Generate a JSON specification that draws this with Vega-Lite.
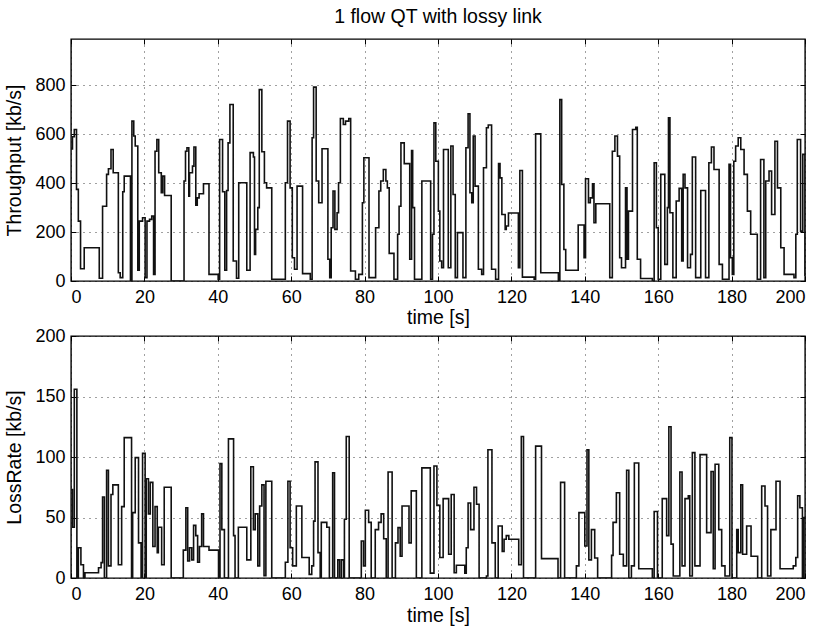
{
  "$schema": "https://vega.github.io/schema/vega-lite/v6.json",
  "background": "white",
  "padding": {"left": 4, "top": 6, "right": 5, "bottom": 0},
  "config": {
    "font": "Liberation Sans",
    "view": {"stroke": "black", "strokeWidth": 1.4},
    "axis": {
      "domain": false,
      "gridColor": "#000000",
      "gridDash": [1, 5],
      "gridOpacity": 0.75,
      "gridWidth": 1,
      "tickSize": -5,
      "tickColor": "#000000",
      "tickWidth": 1,
      "labelFont": "Liberation Sans",
      "labelFontSize": 18,
      "labelColor": "#000000",
      "titleFont": "Liberation Sans",
      "titleFontSize": 19.5,
      "titleFontWeight": "normal",
      "titleColor": "#000000"
    },
    "title": {"font": "Liberation Sans", "fontSize": 19.5, "fontWeight": "normal", "color": "#000000"}
  },
  "datasets": {
    "tp": [
      {"t":0,"v":540},{"t":0.4,"v":590},{"t":0.9,"v":620},{"t":1.5,"v":375},{"t":2.0,"v":245},{"t":2.6,"v":50},{"t":3.6,"v":136},{"t":7.7,"v":11},{"t":8.6,"v":306},{"t":9.7,"v":436},{"t":10.2,"v":459},{"t":10.9,"v":538},{"t":11.5,"v":443},{"t":12.9,"v":34},{"t":13.4,"v":14},{"t":14.1,"v":365},{"t":14.5,"v":429},{"t":16.2,"v":0},{"t":16.6,"v":654},{"t":17.1,"v":593},{"t":17.5,"v":552},{"t":18.2,"v":44},{"t":18.6,"v":245},{"t":19.5,"v":259},{"t":20.2,"v":14},{"t":20.7,"v":245},{"t":21.4,"v":252},{"t":22.0,"v":266},{"t":22.5,"v":27},{"t":22.9,"v":531},{"t":23.4,"v":579},{"t":23.9,"v":443},{"t":24.6,"v":361},{"t":25.0,"v":429},{"t":25.5,"v":350},{"t":27.3,"v":0},{"t":30.8,"v":409},{"t":31.2,"v":531},{"t":31.6,"v":545},{"t":32.1,"v":347},{"t":32.3,"v":443},{"t":33.1,"v":470},{"t":33.5,"v":548},{"t":34.0,"v":310},{"t":34.4,"v":340},{"t":34.9,"v":357},{"t":36.1,"v":398},{"t":37.6,"v":27},{"t":40.1,"v":7},{"t":40.5,"v":579},{"t":41.3,"v":365},{"t":41.9,"v":44},{"t":42.4,"v":370},{"t":42.8,"v":565},{"t":43.3,"v":722},{"t":44.2,"v":82},{"t":45.1,"v":11},{"t":45.7,"v":402},{"t":47.9,"v":44},{"t":48.8,"v":525},{"t":49.7,"v":507},{"t":50.0,"v":109},{"t":50.3,"v":211},{"t":50.9,"v":300},{"t":51.3,"v":783},{"t":52.0,"v":529},{"t":52.7,"v":402},{"t":53.3,"v":381},{"t":54.7,"v":7},{"t":58.4,"v":402},{"t":59.0,"v":654},{"t":59.7,"v":381},{"t":60.3,"v":95},{"t":60.9,"v":48},{"t":61.6,"v":388},{"t":63.1,"v":30},{"t":65.2,"v":7},{"t":65.7,"v":586},{"t":66.1,"v":793},{"t":66.8,"v":409},{"t":67.5,"v":320},{"t":68.4,"v":541},{"t":70.0,"v":89},{"t":70.5,"v":14},{"t":70.9,"v":218},{"t":71.4,"v":368},{"t":71.9,"v":211},{"t":72.5,"v":279},{"t":72.9,"v":402},{"t":73.4,"v":665},{"t":74.2,"v":640},{"t":74.8,"v":654},{"t":75.7,"v":665},{"t":76.2,"v":41},{"t":77.5,"v":7},{"t":78.4,"v":27},{"t":79.4,"v":320},{"t":79.8,"v":504},{"t":81.2,"v":14},{"t":83.0,"v":218},{"t":83.9,"v":368},{"t":84.4,"v":409},{"t":85.1,"v":456},{"t":85.8,"v":409},{"t":86.2,"v":381},{"t":86.7,"v":113},{"t":88.0,"v":7},{"t":89.0,"v":191},{"t":89.4,"v":306},{"t":89.9,"v":565},{"t":90.8,"v":480},{"t":92.3,"v":89},{"t":92.8,"v":534},{"t":93.1,"v":300},{"t":93.6,"v":7},{"t":95.6,"v":409},{"t":98.0,"v":7},{"t":98.5,"v":191},{"t":98.9,"v":647},{"t":99.4,"v":490},{"t":100.1,"v":286},{"t":100.5,"v":82},{"t":101.0,"v":54},{"t":101.5,"v":538},{"t":102.8,"v":54},{"t":103.5,"v":552},{"t":104.1,"v":354},{"t":104.7,"v":14},{"t":105.3,"v":198},{"t":106.8,"v":14},{"t":107.6,"v":545},{"t":108.2,"v":684},{"t":108.7,"v":361},{"t":109.2,"v":320},{"t":109.6,"v":593},{"t":110.1,"v":388},{"t":111.0,"v":48},{"t":111.9,"v":27},{"t":112.4,"v":463},{"t":113.2,"v":627},{"t":113.7,"v":638},{"t":114.6,"v":48},{"t":115.7,"v":7},{"t":116.5,"v":480},{"t":116.9,"v":422},{"t":117.4,"v":272},{"t":118.3,"v":211},{"t":118.6,"v":225},{"t":119.2,"v":278},{"t":121.9,"v":54},{"t":122.3,"v":452},{"t":123.0,"v":16},{"t":126.2,"v":7},{"t":126.6,"v":602},{"t":128.0,"v":34},{"t":132.8,"v":0},{"t":133.2,"v":742},{"t":133.7,"v":395},{"t":134.3,"v":129},{"t":134.8,"v":44},{"t":138.2,"v":229},{"t":139.8,"v":95},{"t":140.2,"v":418},{"t":141.0,"v":320},{"t":141.5,"v":340},{"t":142.1,"v":398},{"t":142.5,"v":238},{"t":143.0,"v":316},{"t":146.8,"v":14},{"t":147.5,"v":531},{"t":148.2,"v":593},{"t":148.9,"v":511},{"t":149.5,"v":95},{"t":150.0,"v":54},{"t":151.1,"v":381},{"t":151.5,"v":89},{"t":151.9,"v":286},{"t":153.0,"v":620},{"t":153.9,"v":629},{"t":154.3,"v":89},{"t":155.2,"v":10},{"t":158.4,"v":0},{"t":158.9,"v":484},{"t":159.5,"v":218},{"t":160.0,"v":7},{"t":160.7,"v":436},{"t":161.8,"v":68},{"t":162.5,"v":300},{"t":162.8,"v":668},{"t":163.2,"v":279},{"t":164.0,"v":14},{"t":164.9,"v":327},{"t":165.7,"v":379},{"t":166.4,"v":82},{"t":166.8,"v":436},{"t":167.3,"v":381},{"t":168.0,"v":54},{"t":168.8,"v":109},{"t":169.3,"v":507},{"t":170.2,"v":14},{"t":171.6,"v":370},{"t":172.9,"v":14},{"t":173.8,"v":484},{"t":174.5,"v":548},{"t":175.2,"v":456},{"t":176.6,"v":68},{"t":177.5,"v":7},{"t":179.3,"v":477},{"t":179.7,"v":95},{"t":180.2,"v":27},{"t":180.6,"v":490},{"t":181.1,"v":552},{"t":181.8,"v":586},{"t":182.5,"v":538},{"t":183.4,"v":436},{"t":184.3,"v":286},{"t":185.2,"v":191},{"t":187.0,"v":7},{"t":187.9,"v":497},{"t":188.8,"v":14},{"t":189.3,"v":409},{"t":190.2,"v":450},{"t":190.9,"v":272},{"t":191.8,"v":572},{"t":192.5,"v":381},{"t":193.4,"v":136},{"t":194.3,"v":27},{"t":197.0,"v":14},{"t":197.5,"v":191},{"t":197.9,"v":579},{"t":198.8,"v":204},{"t":199.4,"v":518},{"t":200,"v":20}
    ],
    "lr": [
      {"t":0,"v":73},{"t":0.4,"v":42},{"t":0.9,"v":156},{"t":1.6,"v":0},{"t":2.0,"v":25},{"t":2.7,"v":11},{"t":3.4,"v":0},{"t":3.8,"v":4.4},{"t":7.5,"v":8.5},{"t":8.2,"v":12.7},{"t":8.6,"v":67},{"t":9.1,"v":0},{"t":9.7,"v":89},{"t":10.2,"v":10},{"t":10.9,"v":69},{"t":11.4,"v":77},{"t":12.9,"v":11},{"t":13.8,"v":59},{"t":14.5,"v":116},{"t":16.5,"v":0},{"t":16.8,"v":54},{"t":17.5,"v":99.5},{"t":18.4,"v":29},{"t":19.1,"v":0},{"t":19.5,"v":103},{"t":20.2,"v":0},{"t":20.5,"v":82},{"t":21.1,"v":53},{"t":21.6,"v":79},{"t":22.3,"v":26},{"t":22.9,"v":59},{"t":23.5,"v":21},{"t":23.8,"v":42},{"t":24.7,"v":11},{"t":25.4,"v":75},{"t":27.3,"v":0},{"t":30.6,"v":23},{"t":31.3,"v":58},{"t":31.8,"v":14},{"t":32.3,"v":25},{"t":32.9,"v":15},{"t":33.4,"v":43.5},{"t":34.0,"v":35},{"t":34.5,"v":13},{"t":35.0,"v":26},{"t":35.6,"v":53},{"t":36.1,"v":26},{"t":37.6,"v":23},{"t":40.2,"v":0},{"t":40.6,"v":94.5},{"t":41.1,"v":40},{"t":41.8,"v":0},{"t":42.9,"v":115},{"t":44.3,"v":35},{"t":44.7,"v":0},{"t":45.6,"v":42},{"t":47.9,"v":15},{"t":49.0,"v":92},{"t":49.7,"v":40},{"t":50.2,"v":53},{"t":50.9,"v":10},{"t":51.4,"v":59.5},{"t":52.0,"v":77},{"t":52.6,"v":2},{"t":53.1,"v":80},{"t":54.7,"v":0},{"t":58.4,"v":13},{"t":59.1,"v":80},{"t":59.7,"v":25},{"t":60.4,"v":10},{"t":61.4,"v":59.5},{"t":62.9,"v":17},{"t":64.9,"v":3},{"t":65.6,"v":10},{"t":66.1,"v":47},{"t":66.5,"v":96},{"t":67.3,"v":21},{"t":67.9,"v":0},{"t":68.2,"v":46},{"t":69.7,"v":42},{"t":70.4,"v":0},{"t":71.3,"v":87},{"t":71.8,"v":0},{"t":72.7,"v":15},{"t":73.2,"v":0},{"t":73.7,"v":15},{"t":74.3,"v":0},{"t":74.5,"v":48.5},{"t":75.0,"v":117},{"t":75.8,"v":0},{"t":79.1,"v":30.6},{"t":79.7,"v":10},{"t":80.2,"v":56},{"t":81.1,"v":46},{"t":81.8,"v":0},{"t":82.9,"v":40},{"t":83.8,"v":46},{"t":84.5,"v":53},{"t":85.2,"v":32.5},{"t":85.9,"v":0},{"t":86.4,"v":87.6},{"t":87.5,"v":0},{"t":88.4,"v":29},{"t":89.1,"v":41.6},{"t":89.7,"v":18},{"t":90.2,"v":59.5},{"t":92.1,"v":29},{"t":92.7,"v":72},{"t":94.1,"v":0},{"t":95.6,"v":91},{"t":97.9,"v":4},{"t":98.9,"v":92.6},{"t":99.7,"v":60},{"t":100.5,"v":17},{"t":101.4,"v":65.6},{"t":102.9,"v":19.6},{"t":103.6,"v":69},{"t":104.4,"v":4.4},{"t":105.0,"v":10.5},{"t":107.3,"v":4},{"t":107.7,"v":25},{"t":108.2,"v":62},{"t":108.9,"v":40},{"t":109.8,"v":75},{"t":110.5,"v":61},{"t":111.2,"v":0},{"t":113.2,"v":1.6},{"t":113.6,"v":106},{"t":114.7,"v":29},{"t":115.6,"v":0},{"t":116.4,"v":43},{"t":117.5,"v":22},{"t":118.0,"v":32},{"t":118.6,"v":35},{"t":119.3,"v":32},{"t":122.0,"v":11},{"t":122.7,"v":117},{"t":123.3,"v":0},{"t":126.6,"v":109},{"t":128.2,"v":16},{"t":132.7,"v":0},{"t":133.4,"v":79},{"t":134.5,"v":0},{"t":137.7,"v":10},{"t":138.4,"v":54},{"t":140.0,"v":26.4},{"t":140.6,"v":106},{"t":141.1,"v":15},{"t":141.8,"v":40},{"t":142.7,"v":16.5},{"t":143.5,"v":0},{"t":147.3,"v":18.7},{"t":147.7,"v":46},{"t":148.6,"v":70.5},{"t":149.5,"v":19.6},{"t":150.5,"v":10},{"t":151.4,"v":89},{"t":152.0,"v":0},{"t":152.7,"v":10},{"t":153.5,"v":95},{"t":154.7,"v":7.7},{"t":158.4,"v":0},{"t":158.9,"v":55},{"t":159.8,"v":0},{"t":161.1,"v":65.6},{"t":162.3,"v":35},{"t":162.9,"v":125},{"t":163.5,"v":28},{"t":164.1,"v":1.6},{"t":165.9,"v":87.6},{"t":166.5,"v":10},{"t":167.3,"v":65.6},{"t":168.2,"v":68},{"t":168.6,"v":1.6},{"t":169.3,"v":103.6},{"t":170.0,"v":10},{"t":171.4,"v":102},{"t":173.2,"v":37.5},{"t":174.4,"v":88},{"t":175.0,"v":7.7},{"t":175.5,"v":94},{"t":176.5,"v":40},{"t":177.3,"v":10},{"t":178.2,"v":1.6},{"t":179.5,"v":116},{"t":180.1,"v":0},{"t":181.4,"v":40},{"t":181.8,"v":21},{"t":182.5,"v":77},{"t":183.0,"v":19.6},{"t":184.1,"v":43},{"t":185.3,"v":18},{"t":187.1,"v":0},{"t":188.2,"v":76},{"t":189.1,"v":59.5},{"t":189.8,"v":1.6},{"t":190.7,"v":40},{"t":192.1,"v":80},{"t":193.2,"v":7.7},{"t":196.8,"v":10},{"t":197.5,"v":17},{"t":198.0,"v":68},{"t":198.6,"v":58},{"t":199.3,"v":0},{"t":199.7,"v":50},{"t":200,"v":50}
    ]
  },
  "spacing": 55,
  "bounds": "flush",
  "vconcat": [
    {
      "width": 734,
      "height": 242,
      "title": {"text": "1 flow QT with lossy link", "frame": "group", "anchor": "middle", "baseline": "alphabetic", "offset": -4},
      "data": {"name": "tp"},
      "layer": [
        {
          "mark": {"type": "line", "interpolate": "step-after", "color": "#111111", "strokeWidth": 1.6, "clip": true},
          "encoding": {
            "x": {"field": "t", "type": "quantitative", "scale": {"domain": [0, 200], "nice": false},
              "axis": {"orient": "bottom", "values": [0,20,40,60,80,100,120,140,160,180,200], "title": "time [s]", "labelPadding": 12, "titlePadding": 2, "grid": true}},
            "y": {"field": "v", "type": "quantitative", "scale": {"domain": [0, 990], "nice": false},
              "axis": {"orient": "left", "values": [0,200,400,600,800], "title": "Throughput [kb/s]", "labelPadding": 11, "titlePadding": 10, "grid": true}}
          }
        },
        {
          "mark": {"type": "line", "strokeOpacity": 0},
          "encoding": {
            "x": {"field": "t", "type": "quantitative", "axis": {"orient": "top", "values": [0,20,40,60,80,100,120,140,160,180,200], "labels": false, "grid": false, "title": null}},
            "y": {"field": "v", "type": "quantitative", "axis": {"orient": "right", "values": [0,200,400,600,800], "labels": false, "grid": false, "title": null}}
          }
        }
      ],
      "resolve": {"axis": {"x": "independent", "y": "independent"}}
    },
    {
      "width": 734,
      "height": 242,
      "data": {"name": "lr"},
      "layer": [
        {
          "mark": {"type": "line", "interpolate": "step-after", "color": "#111111", "strokeWidth": 1.6, "clip": true},
          "encoding": {
            "x": {"field": "t", "type": "quantitative", "scale": {"domain": [0, 200], "nice": false},
              "axis": {"orient": "bottom", "values": [0,20,40,60,80,100,120,140,160,180,200], "title": "time [s]", "labelPadding": 12, "titlePadding": 3, "grid": true}},
            "y": {"field": "v", "type": "quantitative", "scale": {"domain": [0, 200], "nice": false},
              "axis": {"orient": "left", "values": [0,50,100,150,200], "title": "LossRate [kb/s]", "labelPadding": 11, "titlePadding": 10, "grid": true}}
          }
        },
        {
          "mark": {"type": "line", "strokeOpacity": 0},
          "encoding": {
            "x": {"field": "t", "type": "quantitative", "axis": {"orient": "top", "values": [0,20,40,60,80,100,120,140,160,180,200], "labels": false, "grid": false, "title": null}},
            "y": {"field": "v", "type": "quantitative", "axis": {"orient": "right", "values": [0,50,100,150,200], "labels": false, "grid": false, "title": null}}
          }
        }
      ],
      "resolve": {"axis": {"x": "independent", "y": "independent"}}
    }
  ]
}
